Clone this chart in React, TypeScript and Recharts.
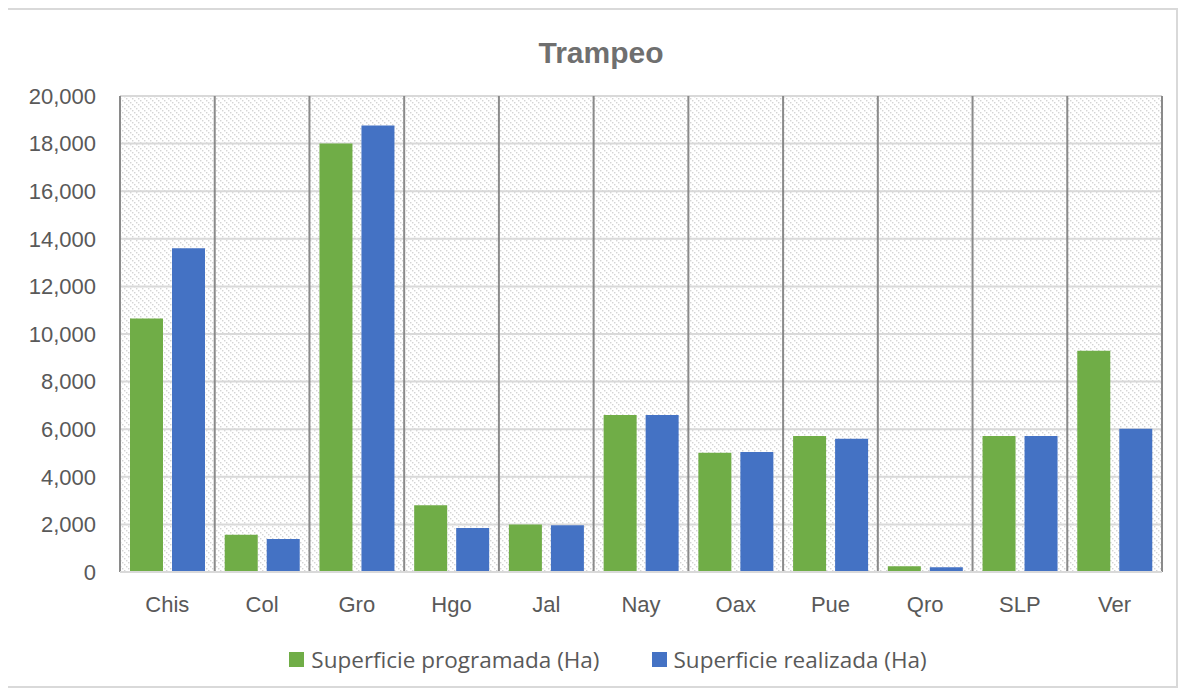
import { BarChart, Bar, XAxis, YAxis, CartesianGrid } from "recharts";

const categories = ["Chis", "Col", "Gro", "Hgo", "Jal", "Nay", "Oax", "Pue", "Qro", "SLP", "Ver"];
const programada = [10650, 1560, 18000, 2800, 2000, 6600, 5010, 5710, 240, 5710, 9300];
const realizada = [13600, 1390, 18760, 1850, 1960, 6600, 5040, 5600, 200, 5710, 6020];
const yTicks = [0, 2000, 4000, 6000, 8000, 10000, 12000, 14000, 16000, 18000, 20000];

const series = [
  { key: "programada", name: "Superficie programada (Ha)", color: "#70AD47" },
  { key: "realizada", name: "Superficie realizada (Ha)", color: "#4472C4" },
];

const data = categories.map((c, i) => ({
  name: c,
  programada: programada[i],
  realizada: realizada[i],
}));

const fmt = (v: number) => v.toLocaleString("en-US");

const tickStyle = { fill: "#595959", fontSize: 22, fontFamily: "Liberation Sans, Arial, sans-serif" };

const App = () => {
  return (
    <div
      style={{
        position: "relative",
        width: 1168,
        height: 676,
        border: "2px solid #d9d9d9",
        marginLeft: -2,
        background: "#fff",
      }}
    >
      <div
        style={{
          position: "absolute",
          top: 26,
          left: 9,
          width: "100%",
          textAlign: "center",
          fontFamily: "Liberation Sans, Arial, sans-serif",
          fontWeight: "bold",
          fontSize: 30,
          color: "#6f6f6f",
        }}
      >
        Trampeo
      </div>
      <BarChart
        width={1168}
        height={676}
        data={data}
        margin={{ top: 86, right: 14, left: 0, bottom: 64 }}
        barGap={9}
      >
        <defs>
          <pattern id="hatch" width="6" height="6" patternUnits="userSpaceOnUse">
            <rect width="6" height="6" fill="#ffffff" />
            <rect x="0" y="0" width="1.4" height="1.4" fill="#d4d4d4" />
            <rect x="2" y="2" width="1.4" height="1.4" fill="#d4d4d4" />
            <rect x="4" y="4" width="1.4" height="1.4" fill="#d4d4d4" />
          </pattern>
        </defs>
        <CartesianGrid vertical={false} stroke="#d9d9d9" strokeWidth={2} fill="url(#hatch)" fillOpacity={1} />
        <CartesianGrid
          horizontal={false}
          stroke="#8a8a8a"
          strokeWidth={2}
          verticalCoordinatesGenerator={({ offset }: any) =>
            Array.from({ length: categories.length + 1 }, (_, i) => offset.left + (offset.width * i) / categories.length)
          }
        />
        <XAxis
          dataKey="name"
          axisLine={{ stroke: "#d9d9d9", strokeWidth: 2 }}
          tickLine={false}
          tickSize={0}
          tickMargin={24}
          height={50}
          tick={tickStyle}
        />
        <YAxis
          domain={[0, 20000]}
          ticks={yTicks}
          tickFormatter={fmt}
          axisLine={false}
          tickLine={false}
          tickSize={0}
          tickMargin={24}
          width={112}
          tick={tickStyle}
        />
        {series.map((s) => (
          <Bar key={s.key} dataKey={s.key} name={s.name} fill={s.color} barSize={33} isAnimationActive={false} />
        ))}
      </BarChart>
      <div
        style={{
          position: "absolute",
          top: 634,
          left: 16,
          width: "100%",
          display: "flex",
          justifyContent: "center",
          gap: 52,
          fontFamily: "Open Sans, Noto Sans, sans-serif",
          fontSize: 22.5,
          color: "#595959",
        }}
      >
        {series.map((s) => (
          <div key={s.key} style={{ display: "flex", alignItems: "center" }}>
            <span style={{ display: "inline-block", width: 15, height: 15, background: s.color, marginRight: 7 }} />
            <span>{s.name}</span>
          </div>
        ))}
      </div>
    </div>
  );
};

export default App;
